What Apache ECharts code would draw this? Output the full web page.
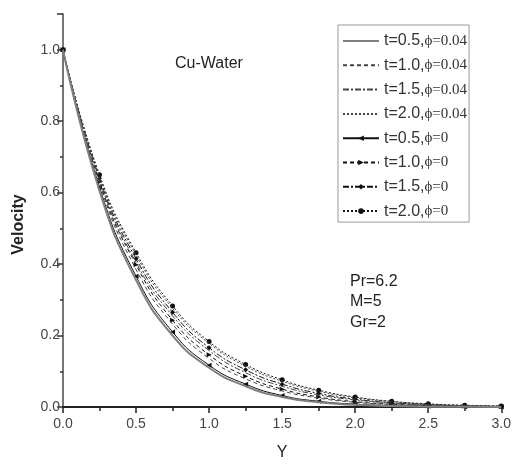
<!DOCTYPE html>
<html>
<head>
<meta charset="utf-8">
<script src="https://cdn.jsdelivr.net/npm/echarts@6/dist/echarts.min.js"></script>
<style>html,body{margin:0;padding:0;background:#fff;}#c{width:514px;height:466px;}</style>
</head>
<body>
<div id="c"></div>
<script>
var yPoints = [0, 0.25, 0.5, 0.75, 1.0, 1.25, 1.5, 1.75, 2.0, 2.25, 2.5, 2.75, 3.0];
var xTicks = [0, 0.5, 1.0, 1.5, 2.0, 2.5, 3.0];
var seriesNames = ['t=0.5,ϕ=0.04', 't=1.0,ϕ=0.04', 't=1.5,ϕ=0.04', 't=2.0,ϕ=0.04',
                   't=0.5,ϕ=0', 't=1.0,ϕ=0', 't=1.5,ϕ=0', 't=2.0,ϕ=0'];
var v_t05_p004 = [1, 0.605, 0.355, 0.200, 0.110, 0.058, 0.028, 0.013, 0.006, 0.003, 0.001, 0.0005, 0];
var v_t10_p004 = [1, 0.625, 0.385, 0.232, 0.136, 0.079, 0.045, 0.025, 0.013, 0.007, 0.003, 0.0015, 0.001];
var v_t15_p004 = [1, 0.635, 0.405, 0.255, 0.158, 0.096, 0.058, 0.034, 0.020, 0.011, 0.006, 0.003, 0.0015];
var v_t20_p004 = [1, 0.645, 0.425, 0.276, 0.178, 0.114, 0.072, 0.044, 0.026, 0.015, 0.008, 0.004, 0.002];
var v_t05_p0 = [1, 0.615, 0.366, 0.210, 0.117, 0.064, 0.032, 0.016, 0.008, 0.004, 0.002, 0.001, 0];
var v_t10_p0 = [1, 0.630, 0.398, 0.243, 0.146, 0.086, 0.050, 0.028, 0.015, 0.008, 0.004, 0.002, 0.001];
var v_t15_p0 = [1, 0.640, 0.415, 0.265, 0.166, 0.104, 0.064, 0.038, 0.022, 0.012, 0.007, 0.003, 0.002];
var v_t20_p0 = [1, 0.650, 0.432, 0.283, 0.183, 0.119, 0.076, 0.047, 0.028, 0.016, 0.009, 0.005, 0.003];

function pairs(vals) { return yPoints.map(function (y, i) { return [y, vals[i]]; }); }

var styles = [
  {vals: v_t05_p004, color: '#808080', width: 2, type: 'solid', symbol: 'none'},
  {vals: v_t10_p004, color: '#444', width: 1, type: [4, 3], symbol: 'none'},
  {vals: v_t15_p004, color: '#444', width: 1, type: [6, 2, 2, 2], symbol: 'none'},
  {vals: v_t20_p004, color: '#444', width: 1, type: [2, 2], symbol: 'none'},
  {vals: v_t05_p0, color: '#111', width: 1, type: 'solid', symbol: 'triangle', rotate: 90},
  {vals: v_t10_p0, color: '#111', width: 1, type: [4, 3], symbol: 'triangle', rotate: -90},
  {vals: v_t15_p0, color: '#111', width: 1, type: [6, 2, 2, 2], symbol: 'diamond', rotate: 0},
  {vals: v_t20_p0, color: '#111', width: 1, type: [2, 2], symbol: 'circle', rotate: 0}
];

var series = styles.map(function (s, i) {
  return {
    name: seriesNames[i],
    type: 'line',
    data: pairs(s.vals),
    smooth: 0.5,
    showSymbol: s.symbol !== 'none',
    symbol: s.symbol,
    symbolSize: 5,
    symbolRotate: s.rotate || 0,
    itemStyle: {color: s.color},
    lineStyle: {color: s.color, width: s.width, type: s.type},
    z: 10 - i
  };
});

var legendData = seriesNames.map(function (n, i) {
  if (styles[i].symbol === 'none') {
    return {name: n, itemStyle: {color: 'rgba(0,0,0,0)', borderWidth: 0, opacity: 0}};
  }
  return {name: n};
});

var chart = echarts.init(document.getElementById('c'));
chart.setOption({
  animation: false,
  backgroundColor: '#fff',
  grid: {left: 63, right: 11, top: 14, bottom: 59},
  xAxis: {
    type: 'value', min: 0, max: 3, interval: 0.5,
    name: 'Y', nameLocation: 'middle', nameGap: 38,
    nameTextStyle: {fontFamily: 'Liberation Sans', fontSize: 16, color: '#222'},
    axisLine: {lineStyle: {color: '#222', width: 2}},
    axisTick: {show: true, length: 6, inside: false, lineStyle: {color: '#222', width: 1.5}},
    minorTick: {show: true, splitNumber: 2, length: 4, lineStyle: {color: '#222', width: 1.5}},
    splitLine: {show: false},
    axisLabel: {margin: 10, fontFamily: 'Liberation Sans', fontSize: 14, color: '#444',
      formatter: function (v) { return v.toFixed(1); }}
  },
  yAxis: {
    type: 'value', min: 0, max: 1.1, interval: 0.2,
    name: 'Velocity', nameLocation: 'middle', nameGap: 36, nameRotate: 90,
    nameTextStyle: {fontFamily: 'Liberation Sans', fontSize: 16, fontWeight: 'bold', color: '#222', padding: [0, 0, 0, -28]},
    axisLine: {lineStyle: {color: '#777', width: 2}},
    axisTick: {show: true, length: 6, lineStyle: {color: '#333', width: 1.5}},
    minorTick: {show: true, splitNumber: 2, length: 3, lineStyle: {color: '#333', width: 1.5}},
    splitLine: {show: false},
    axisLabel: {margin: 3, fontFamily: 'Liberation Sans', fontSize: 14, color: '#444',
      formatter: function (v) { return (Math.abs(v * 5 - Math.round(v * 5)) < 1e-6) ? v.toFixed(1) : ''; }}
  },
  legend: {
    orient: 'vertical', left: 338, top: 25,
    data: legendData,
    itemWidth: 36, itemHeight: 7, itemGap: 8.3,
    iconRotate: 'inherit',
    padding: [8, 2, 3, 4],
    borderColor: '#999', borderWidth: 1,
    textStyle: {
      rich: {
        a: {fontFamily: 'Liberation Sans', fontSize: 16, color: '#333'},
        b: {fontFamily: 'Liberation Serif', fontSize: 15, color: '#333'}
      }
    },
    formatter: function (name) {
      var k = name.indexOf(',');
      return '{a|' + name.slice(0, k + 1) + '}{b|' + name.slice(k + 1) + '}';
    }
  },
  graphic: [
    {type: 'text', left: 175, top: 56, style: {text: 'Cu-Water', font: '16px "Liberation Sans"', fill: '#222'}},
    {type: 'text', left: 350, top: 274, style: {text: 'Pr=6.2', font: '16px "Liberation Sans"', fill: '#222'}},
    {type: 'text', left: 350, top: 294, style: {text: 'M=5', font: '16px "Liberation Sans"', fill: '#222'}},
    {type: 'text', left: 350, top: 315, style: {text: 'Gr=2', font: '16px "Liberation Sans"', fill: '#222'}}
  ],
  series: series
});
</script>
</body>
</html>
